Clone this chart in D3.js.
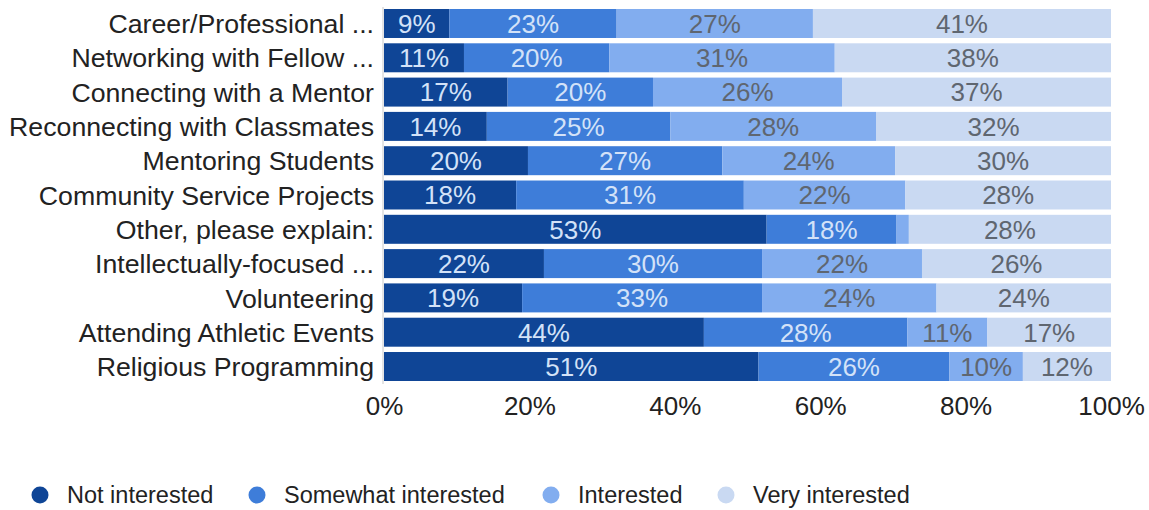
<!DOCTYPE html>
<html>
<head>
<meta charset="utf-8">
<script src="https://cdn.jsdelivr.net/npm/d3@7"></script>
<style>
  body { margin: 0; background: #fff; }
  svg { font-family: "Liberation Sans", Arial, sans-serif; }
</style>
</head>
<body>
<script>
// categories, top to bottom
var categories = [
  "Career/Professional ...",
  "Networking with Fellow ...",
  "Connecting with a Mentor",
  "Reconnecting with Classmates",
  "Mentoring Students",
  "Community Service Projects",
  "Other, please explain:",
  "Intellectually-focused ...",
  "Volunteering",
  "Attending Athletic Events",
  "Religious Programming"
];

var seriesNames = ["Not interested", "Somewhat interested", "Interested", "Very interested"];

// percentages per series, same order as categories
var notInterested      = [9, 11, 17, 14, 20, 18, 53, 22, 19, 44, 51];
var somewhatInterested = [23, 20, 20, 25, 27, 31, 18, 30, 33, 28, 26];
var interested         = [27, 31, 26, 28, 24, 22, 1.7, 22, 24, 11, 10];
var veryInterested     = [41, 38, 37, 32, 30, 28, 28, 26, 24, 17, 12];

var xTicks = [0, 20, 40, 60, 80, 100];

var colors = ["#0f4596", "#3e7dd9", "#82adef", "#c9d9f2"];
var labelColors = ["#d3e2f8", "#d3e2f8", "#5f6670", "#5f6670"];

var svgWidth = 1149, svgHeight = 510;
var margin = { top: 9, right: 38, bottom: 129, left: 384 };
var chartWidth = svgWidth - margin.left - margin.right;
var chartHeight = svgHeight - margin.top - margin.bottom;

var svg = d3.select("body").append("svg")
  .attr("width", svgWidth)
  .attr("height", svgHeight);

var chartGroup = svg.append("g")
  .attr("transform", `translate(${margin.left}, ${margin.top})`);

// build rows, normalised so each bar fills 100%
var series = [notInterested, somewhatInterested, interested, veryInterested];
var rows = categories.map(function(cat, i) {
  var vals = series.map(s => s[i]);
  var total = d3.sum(vals);
  var start = 0;
  var segs = vals.map(function(v, k) {
    var seg = { k: k, value: v, x0: start / total * 100, x1: (start + v) / total * 100 };
    start += v;
    return seg;
  });
  return { cat: cat, segs: segs };
});

var x = d3.scaleLinear().domain([0, 100]).range([0, chartWidth]);
var y = d3.scaleBand().domain(categories).range([0, 372]).paddingInner(0.155).paddingOuter(0);

// axis baseline
chartGroup.append("line")
  .attr("x1", -1).attr("x2", -1)
  .attr("y1", -2).attr("y2", 375)
  .attr("stroke", "#e4e4e4")
  .attr("stroke-width", 2);

var rowG = chartGroup.selectAll(".row")
  .data(rows)
  .enter().append("g")
  .attr("class", "row")
  .attr("transform", d => `translate(0, ${y(d.cat)})`);

rowG.selectAll("rect")
  .data(d => d.segs)
  .enter().append("rect")
  .attr("x", d => x(d.x0))
  .attr("width", d => x(d.x1) - x(d.x0))
  .attr("y", 0)
  .attr("height", y.bandwidth())
  .attr("fill", d => colors[d.k]);

rowG.selectAll("text.val")
  .data(d => d.segs.filter(s => x(s.x1) - x(s.x0) > 30))
  .enter().append("text")
  .attr("class", "val")
  .attr("x", d => (x(d.x0) + x(d.x1)) / 2)
  .attr("y", y.bandwidth() / 2)
  .attr("dy", "0.36em")
  .attr("text-anchor", "middle")
  .attr("font-size", 26)
  .attr("fill", d => labelColors[d.k])
  .text(d => d.value + "%");

// category labels
chartGroup.selectAll("text.cat")
  .data(categories)
  .enter().append("text")
  .attr("class", "cat")
  .attr("x", -10)
  .attr("y", d => y(d) + y.bandwidth() / 2)
  .attr("dy", "0.36em")
  .attr("text-anchor", "end")
  .attr("font-size", 26.7)
  .attr("fill", "#222")
  .text(d => d);

// bottom axis labels
var axis = d3.axisBottom(x)
  .tickValues(xTicks)
  .tickFormat(d => d + "%")
  .tickSize(0)
  .tickPadding(13);

var axisG = chartGroup.append("g")
  .attr("transform", `translate(0, 375)`)
  .call(axis);
axisG.select(".domain").remove();
axisG.selectAll("text")
  .attr("font-size", 26)
  .attr("font-family", "Liberation Sans, Arial, sans-serif")
  .attr("fill", "#222");

// legend
var legendX = [40, 257, 551, 726];
var legend = svg.append("g").attr("transform", "translate(0, 495)");
var item = legend.selectAll("g")
  .data(seriesNames)
  .enter().append("g")
  .attr("transform", (d, i) => `translate(${legendX[i]}, 0)`);
item.append("circle")
  .attr("r", 8.5)
  .attr("fill", (d, i) => colors[i]);
item.append("text")
  .attr("x", 27)
  .attr("dy", "0.36em")
  .attr("font-size", 23.5)
  .attr("fill", "#222")
  .text(d => d);
</script>
</body>
</html>
